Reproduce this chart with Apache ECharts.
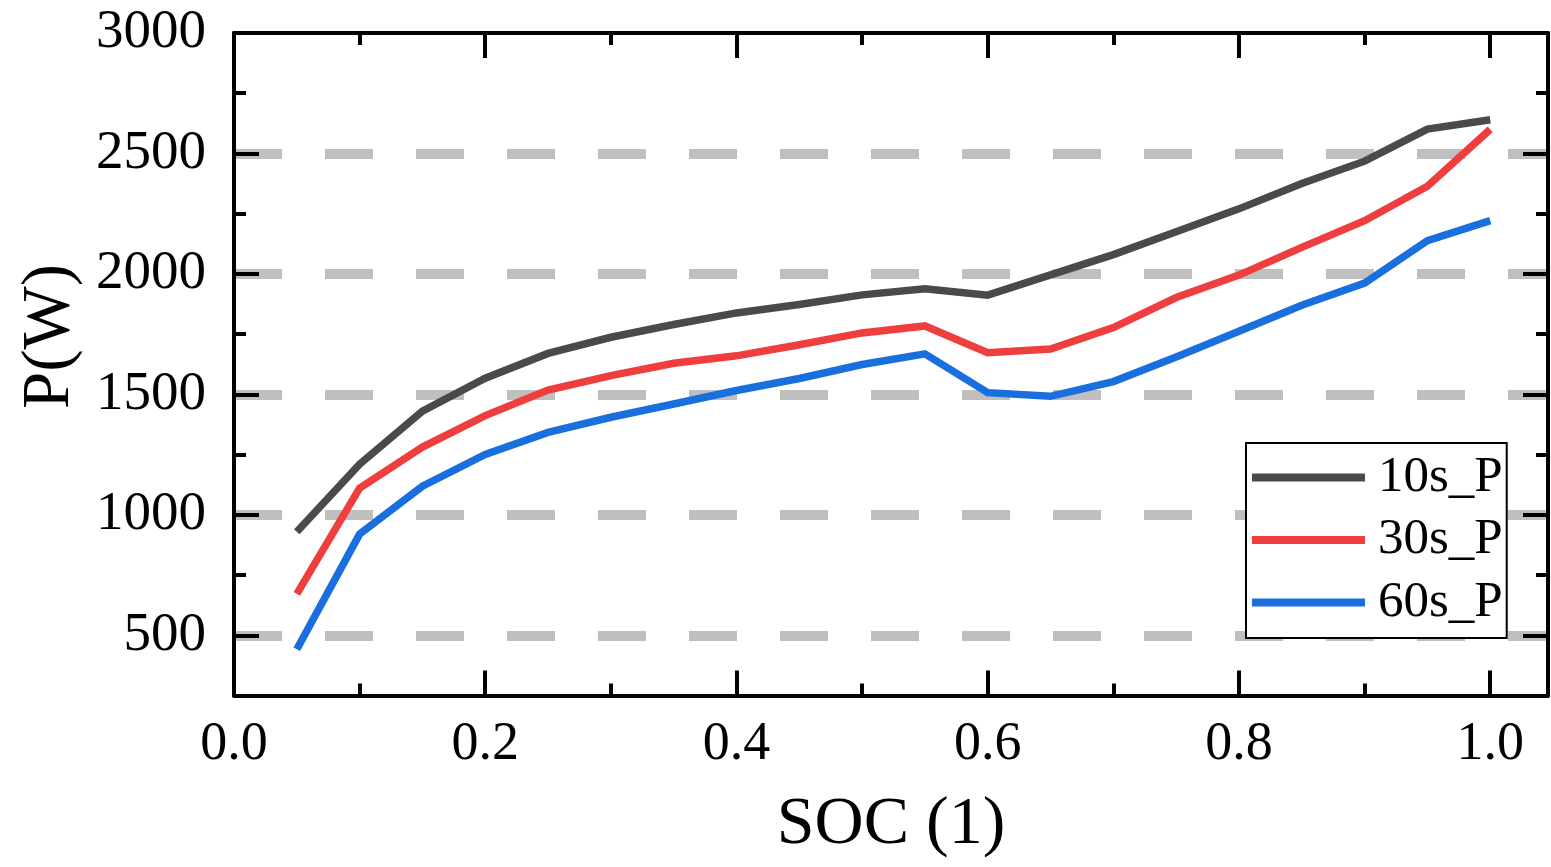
<!DOCTYPE html>
<html>
<head>
<meta charset="utf-8">
<title>SOC vs P</title>
<script src="https://cdn.jsdelivr.net/npm/echarts@6/dist/echarts.min.js"></script>
<style>
  html, body { margin: 0; padding: 0; background: #fff; }
  #chart { width: 1551px; height: 867px; }
</style>
</head>
<body>
<div id="chart"></div>
<script>
// State of charge sample points
const soc = [0.05, 0.10, 0.15, 0.20, 0.25, 0.30, 0.35, 0.40, 0.45, 0.50,
             0.55, 0.60, 0.65, 0.70, 0.75, 0.80, 0.85, 0.90, 0.95, 1.00];
// Peak power (W) for 10 s, 30 s and 60 s pulses
const p10 = [930, 1210, 1430, 1567, 1670, 1737, 1790, 1838, 1873, 1913,
             1938, 1912, 1996, 2080, 2175, 2270, 2375, 2468, 2601, 2640];
const p30 = [672, 1111, 1281, 1412, 1518, 1578, 1629, 1660, 1706, 1755,
             1784, 1673, 1688, 1777, 1902, 1995, 2110, 2221, 2364, 2600];
const p60 = [442, 920, 1119, 1251, 1342, 1405, 1460, 1516, 1566, 1624,
             1668, 1507, 1492, 1553, 1655, 1762, 1870, 1962, 2138, 2221];
const seriesNames = ['10s_P', '30s_P', '60s_P'];
const seriesColors = ['#4a4a4a', '#ef3e3e', '#1a6fde'];
const yTickValues = [500, 1000, 1500, 2000, 2500, 3000];

const FONT = '"Liberation Serif", "Times New Roman", serif';
const pairs = vals => soc.map((s, i) => [s, vals[i]]);

const chart = echarts.init(document.getElementById('chart'), null, { renderer: 'canvas' });

const frameLine = { show: true, onZero: false, lineStyle: { color: '#000', width: 4 } };
const majorTick = { show: true, inside: true, length: 25, lineStyle: { color: '#000', width: 4 } };
const minorTick = { show: true, splitNumber: 2, length: 12, lineStyle: { color: '#000', width: 4 } };

const xBase = { type: 'value', min: 0, max: 1.046, interval: 0.2 };
const yBase = { type: 'value', min: 250, max: 3000, splitNumber: 5 };

chart.setOption({
  animation: false,
  backgroundColor: '#fff',
  grid: { left: 234, right: 3, top: 33, bottom: 171.5, containLabel: false },
  xAxis: [
    Object.assign({}, xBase, {
      position: 'bottom',
      axisLine: frameLine,
      axisTick: majorTick,
      minorTick: minorTick,
      splitLine: { show: false },
      axisLabel: {
        show: true, margin: 22, color: '#000', fontFamily: FONT, fontSize: 54,
        showMaxLabel: false,
        formatter: v => v.toFixed(1)
      },
      name: 'SOC (1)',
      nameLocation: 'middle',
      nameGap: 96,
      nameTextStyle: { color: '#000', fontFamily: FONT, fontSize: 68 }
    }),
    Object.assign({}, xBase, {
      position: 'top',
      axisLine: frameLine,
      axisTick: majorTick,
      minorTick: minorTick,
      splitLine: { show: false },
      axisLabel: { show: false }
    })
  ],
  yAxis: [
    Object.assign({}, yBase, {
      position: 'left',
      axisLine: frameLine,
      axisTick: majorTick,
      minorTick: minorTick,
      splitLine: {
        show: true, showMinLine: false, showMaxLine: false,
        lineStyle: { color: '#bfbfbf', width: 10, type: [48, 43] }
      },
      axisLabel: {
        show: true, margin: 28, color: '#000', fontFamily: FONT, fontSize: 55,
        formatter: v => (yTickValues.indexOf(v) >= 0 ? String(v) : '')
      }
    }),
    Object.assign({}, yBase, {
      position: 'right',
      axisLine: frameLine,
      axisTick: majorTick,
      minorTick: minorTick,
      splitLine: { show: false },
      axisLabel: { show: false }
    })
  ],
  legend: {
    show: true,
    orient: 'vertical',
    left: 1246,
    top: 443,
    width: 260,
    padding: [9, 4, 10, 6],
    itemGap: 11.5,
    itemWidth: 113,
    itemHeight: 8,
    icon: 'rect',
    borderColor: '#000',
    borderWidth: 2,
    borderRadius: 0,
    backgroundColor: '#fff',
    data: seriesNames,
    textStyle: {
      color: '#000', fontFamily: FONT, fontSize: 51, lineHeight: 50,
      padding: [0, 0, 0, 8]
    }
  },
  graphic: [{
    type: 'text',
    left: 17,
    top: 264,
    rotation: Math.PI / 2,
    style: { text: 'P(W)', fill: '#000', font: '67px ' + FONT }
  }],
  series: [p10, p30, p60].map((vals, i) => ({
    name: seriesNames[i],
    type: 'line',
    xAxisIndex: 0,
    yAxisIndex: 0,
    data: pairs(vals),
    showSymbol: false,
    symbol: 'none',
    color: seriesColors[i],
    lineStyle: { color: seriesColors[i], width: 7.5, join: 'miter', cap: 'butt' },
    z: 3
  }))
});
</script>
</body>
</html>
